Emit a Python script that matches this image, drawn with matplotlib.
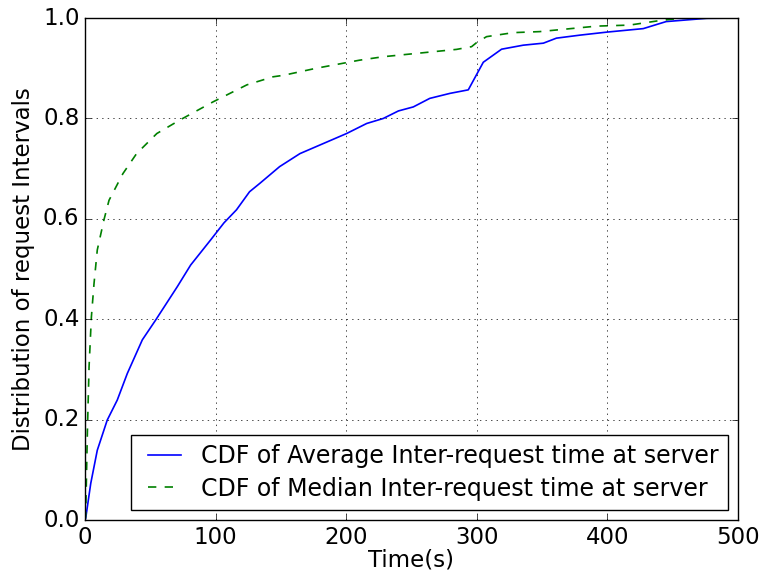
import numpy as np
import matplotlib
matplotlib.use('Agg')
import matplotlib.pyplot as plt

# values
avg_t = [0, 0.5, 4.4, 9.4, 17, 24.7, 32.4, 43.9, 54, 70.7, 80.9, 96.2, 106.4,
         116, 126, 134, 149, 164.6, 200.3, 215.7, 228.4, 240, 251.4, 264,
         279.5, 293.5, 305, 319, 335.6, 351, 361, 379, 399.5, 427.5, 445,
         476, 500]
avg_cdf = [0, 0.003, 0.073, 0.139, 0.199, 0.239, 0.292, 0.359, 0.398, 0.465,
           0.508, 0.558, 0.592, 0.618, 0.654, 0.671, 0.704, 0.730, 0.770,
           0.790, 0.800, 0.815, 0.823, 0.840, 0.850, 0.857, 0.912, 0.938,
           0.946, 0.950, 0.960, 0.966, 0.972, 0.979, 0.993, 0.9995, 1.0]

med_t = [0, 0.5, 1.8, 3.1, 4.9, 6.9, 9.4, 14.5, 18.4, 29, 39.5, 55, 72.7, 98,
         124, 144, 152, 177, 210, 228.4, 284.5, 296, 299.8, 307.5, 328, 348,
         392, 417, 440, 455.6, 500]
med_cdf = [0, 0.007, 0.173, 0.305, 0.405, 0.471, 0.538, 0.598, 0.637, 0.690,
           0.730, 0.770, 0.797, 0.833, 0.867, 0.883, 0.886, 0.900, 0.916,
           0.923, 0.9376, 0.943, 0.951, 0.963, 0.971, 0.973, 0.984, 0.986,
           0.995, 0.9995, 1.0]

labels = ['CDF of Average Inter-request time at server',
          'CDF of Median Inter-request time at server']

plt.style.use('classic')
plt.rcParams['font.size'] = 16.5

fig = plt.figure(figsize=(7.61, 5.83), dpi=100, facecolor='white')
ax = fig.add_axes([0.1117, 0.108, 0.858, 0.861])
ax.plot(avg_t, avg_cdf, 'b-', lw=1.2, label=labels[0])
ax.plot(med_t, med_cdf, 'g--', lw=1.2, label=labels[1])

ax.set_xlim(0, 500)
ax.set_ylim(0, 1.0)
ax.set_xticks(np.arange(0, 501, 100))
ax.set_yticks(np.arange(0, 1.01, 0.2))
ax.grid(True)
ax.set_xlabel('Time(s)', labelpad=0)
ax.set_ylabel('Distribution of request Intervals', labelpad=6)
ax.legend(loc='lower right', fontsize=17.0, borderaxespad=0.42,
          handlelength=2.0, handletextpad=0.55, borderpad=0.4,
          labelspacing=0.35)

fig.savefig('out.png', dpi=100, facecolor='white')
